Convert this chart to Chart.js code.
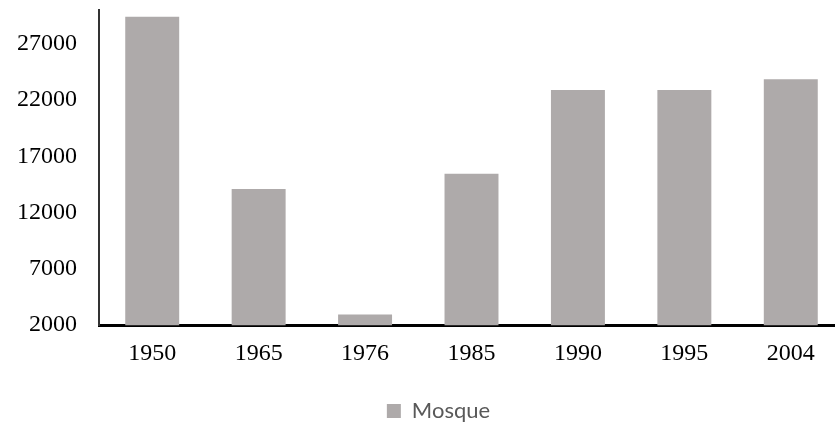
<!DOCTYPE html>
<html>
<head>
<meta charset="utf-8">
<script src="https://cdn.jsdelivr.net/npm/chart.js@4/dist/chart.umd.min.js"></script>
<style>
html,body{margin:0;padding:0;background:#fff;overflow:hidden;}
#wrap{position:relative;width:846px;height:424px;}
</style>
</head>
<body>
<div id="wrap"><canvas id="c"></canvas></div>
<script>
const categories = ['1950','1965','1976','1985','1990','1995','2004'];
const mosqueValues = [29400, 14100, 2950, 15450, 22900, 22900, 23850];
const yTickValues = [2000, 7000, 12000, 17000, 22000, 27000];
const seriesName = 'Mosque';

const legendShift = {
  id: 'legendShift',
  afterLayout(chart) {
    const lg = chart.legend;
    if (lg) { lg.left += 19; lg.right += 19; lg.top += 8; lg.bottom += 8; }
  }
};
function noPad(scale) {
  scale.paddingTop = 0; scale.paddingBottom = 0;
  scale.paddingLeft = 0; scale.paddingRight = 0;
}

new Chart(document.getElementById('c'), {
  type: 'bar',
  data: {
    labels: categories,
    datasets: [{
      label: seriesName,
      data: mosqueValues,
      backgroundColor: '#aeaaaa',
      borderWidth: 0,
      categoryPercentage: 1,
      barPercentage: 0.507
    }]
  },
  options: {
    responsive: true,
    maintainAspectRatio: false,
    animation: false,
    layout: { padding: { top: 10, left: -5, right: 2, bottom: 0 } },
    plugins: {
      tooltip: { enabled: false },
      legend: {
        position: 'bottom',
        labels: {
          boxWidth: 14, boxHeight: 14,
          color: '#595959',
          font: { family: 'Lato', size: 22 },
          padding: 10
        }
      }
    },
    scales: {
      x: {
        afterFit: noPad,
        grid: { display: false, drawTicks: false },
        border: { display: true, color: '#000', width: 3 },
        ticks: { color: '#000', font: { family: 'Liberation Serif', size: 24 }, padding: 14 }
      },
      y: {
        min: 2000,
        max: 30000,
        afterFit: noPad,
        grid: { display: false, drawTicks: false },
        border: { display: true, color: '#333', width: 2 },
        afterBuildTicks(scale) {
          scale.ticks = yTickValues.map(v => ({ value: v }));
        },
        ticks: {
          color: '#000',
          font: { family: 'Liberation Serif', size: 24 },
          padding: 22,
          callback: v => String(v)
        }
      }
    }
  },
  plugins: [legendShift]
});
</script>
</body>
</html>
